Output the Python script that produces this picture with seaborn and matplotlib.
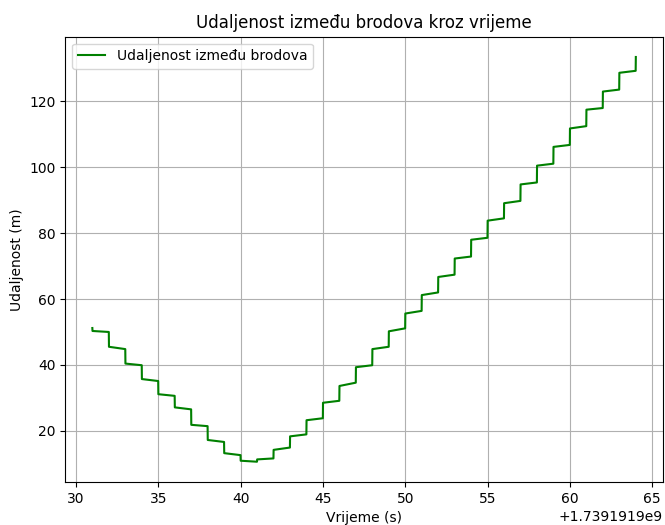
import numpy as np
import pandas as pd
import matplotlib
matplotlib.use("Agg")
import matplotlib.pyplot as plt
import seaborn as sns

# Epoch offset of the recording (seconds)
t0 = 1739191900

# Whole seconds at which a new distance reading arrives
seconds = list(range(31, 65))

# Distance at the start of each second (m)
dist_start = [50.3, 45.5, 40.4, 35.7, 31.1, 27.1, 21.8, 17.2, 13.2, 10.9,
              11.3, 14.2, 18.3, 23.2, 28.5, 33.6, 39.3, 44.8, 50.2, 55.6,
              61.2, 66.7, 72.3, 78.0, 83.8, 89.1, 94.8, 100.5, 106.2, 111.8,
              117.5, 123.0, 128.7, 133.5]

# Distance at the end of each second (m); last second has no end reading
dist_end = [50.0, 44.8, 39.9, 35.1, 30.6, 26.5, 21.4, 16.6, 12.6, 10.6,
            11.6, 14.9, 18.9, 23.8, 29.1, 34.6, 39.9, 45.5, 51.1, 56.4,
            62.0, 67.4, 72.9, 78.6, 84.5, 89.8, 95.4, 101.1, 106.8, 112.5,
            118.0, 123.6, 129.3]

# Reading just before the first full second
first_time = 30.99
first_dist = 51.2

times = [first_time]
dists = [first_dist]
for i, s in enumerate(seconds):
    times.append(s)
    dists.append(dist_start[i])
    if i < len(dist_end):
        times.append(s + 0.99)
        dists.append(dist_end[i])

df = pd.DataFrame({"time": np.array(times, dtype=float) + t0, "distance": dists})

fig, ax = plt.subplots(figsize=(6.65, 5.25), dpi=100)
fig.subplots_adjust(left=0.098, right=0.997, bottom=0.082, top=0.93)

sns.lineplot(data=df, x="time", y="distance", ax=ax, color="green",
             linewidth=1.5, estimator=None, sort=False,
             label="Udaljenost između brodova")

ax.set_title("Udaljenost između brodova kroz vrijeme")
ax.set_xlabel("Vrijeme (s)")
ax.set_ylabel("Udaljenost (m)")
ax.grid(True)
ax.legend(loc="upper left")

fig.savefig("out.png", dpi=100)
